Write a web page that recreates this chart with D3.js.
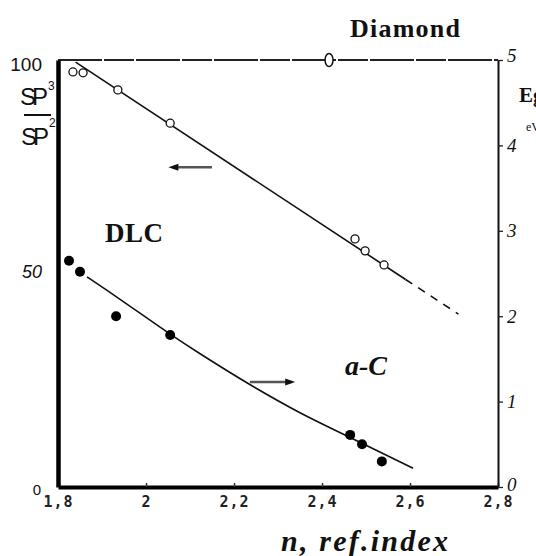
<!DOCTYPE html>
<html><head><meta charset="utf-8">
<script src="https://cdn.jsdelivr.net/npm/d3@7"></script>
<style>html,body{margin:0;padding:0;background:#fff;}svg{display:block;}</style>
</head><body>
<svg id="c" width="536" height="556"></svg>
<script>
// ---- data ----
const xTicks = [1.8, 2.0, 2.2, 2.4, 2.6, 2.8];
const xTickLabels = ["1,8", "2", "2,2", "2,4", "2,6", "2,8"];
const leftTicks = [0, 50, 100];
const leftTickLabels = ["0", "50", "100"];
const rightTicks = [0, 1, 2, 3, 4, 5];
const rightTickLabels = ["0", "1", "2", "3", "4", "5"];
// sp3/sp2 ratio (%) - open circles
const sp3N = [1.834, 1.857, 1.936, 2.055, 2.475, 2.498, 2.541];
const sp3V = [97.2, 97.0, 93.0, 85.2, 58.1, 55.3, 52.0];
// diamond
const diamondN = [2.416];
const diamondV = [100];
// sp3 fit line (solid + dashed extrapolation)
const fitSolidN = [1.84, 2.59];
const fitSolidV = [99.5, 48.6];
const fitDashN = [2.59, 2.71];
const fitDashV = [48.6, 40.5];
// optical gap Eg (eV) - filled circles
const egN = [1.825, 1.85, 1.932, 2.055, 2.464, 2.491, 2.536];
const egV = [2.65, 2.52, 2.00, 1.78, 0.61, 0.50, 0.30];
// Eg fit curve
const egFitN = [1.866, 1.932, 2.055, 2.123, 2.236, 2.35, 2.464, 2.607];
const egFitV = [2.46, 2.23, 1.79, 1.56, 1.20, 0.87, 0.58, 0.22];

// ---- layout ----
const L = 58, R = 498, T = 60, B = 487;
const svg = d3.select("#c");
const x = d3.scaleLinear().domain([1.8, 2.8]).range([L, R]);
const yL = d3.scaleLinear().domain([0, 100]).range([B, T]);
const yR = d3.scaleLinear().domain([0, 5]).range([B, T]);

// top frame (slightly broken line)
svg.append("line").attr("x1", L).attr("x2", R).attr("y1", T).attr("y2", T)
  .attr("stroke", "#222").attr("stroke-width", 2).attr("stroke-dasharray", "44,2,30,2");

// bottom axis
const gx = svg.append("g").attr("transform", `translate(0,${B})`)
  .call(d3.axisBottom(x).tickValues(xTicks).tickSizeInner(-4).tickSizeOuter(0)
    .tickFormat((d, i) => xTickLabels[i]));
gx.select(".domain").attr("stroke", "#000").attr("stroke-width", 4);
gx.selectAll(".tick line").attr("stroke", "#333").attr("stroke-width", 1.5);
gx.selectAll(".tick text").attr("font-family", "DejaVu Sans Mono").attr("font-weight", "bold")
  .attr("font-size", 15).attr("fill", "#222").attr("letter-spacing", 1).attr("y", 9);

// left axis
const gl = svg.append("g").attr("transform", `translate(${L},0)`)
  .call(d3.axisLeft(yL).tickValues(leftTicks).tickSize(0).tickPadding(16)
    .tickFormat((d, i) => leftTickLabels[i]));
gl.select(".domain").attr("stroke", "#000").attr("stroke-width", 4.5);
gl.selectAll(".tick text").attr("font-family", "Liberation Sans").attr("font-size", 18).attr("fill", "#111");
gl.selectAll(".tick text").filter(d => d === 100).attr("dy", "0.55em").attr("x", -16).attr("font-size", 19);
gl.selectAll(".tick text").filter(d => d === 50).attr("font-style", "italic").attr("dy", "0.2em").attr("x", -16);
gl.selectAll(".tick text").filter(d => d === 0).attr("font-size", 15).attr("x", -17).attr("dy", "0.5em");

// right axis
const gr = svg.append("g").attr("transform", `translate(${R},0)`)
  .call(d3.axisRight(yR).tickValues(rightTicks).tickSizeInner(5).tickSizeOuter(0).tickPadding(4)
    .tickFormat((d, i) => rightTickLabels[i]));
gr.select(".domain").attr("stroke", "#111").attr("stroke-width", 2);
gr.selectAll(".tick line").attr("stroke", "#222").attr("stroke-width", 1.3);
gr.selectAll(".tick text").attr("font-family", "Liberation Serif").attr("font-style", "italic")
  .attr("font-size", 19).attr("fill", "#111");
gr.selectAll(".tick text").filter(d => d === 5).attr("dy", "0.1em");
gr.selectAll(".tick text").filter(d => d === 0).attr("dy", "0.2em");

// left axis title SP3 / SP2
const lt = svg.append("g").attr("font-family", "Liberation Sans").attr("fill", "#111");
lt.append("text").attr("x", 20).attr("y", 105).attr("font-size", 24).attr("textLength", 28).text("SP");
lt.append("text").attr("x", 48).attr("y", 90).attr("font-size", 12).text("3");
lt.append("line").attr("x1", 24).attr("x2", 51).attr("y1", 115).attr("y2", 115).attr("stroke", "#111").attr("stroke-width", 2);
lt.append("text").attr("x", 21).attr("y", 145).attr("font-size", 24).attr("textLength", 28).text("SP");
lt.append("text").attr("x", 49).attr("y", 127).attr("font-size", 12).text("2");

// right axis title Eg, eV (partially clipped at the edge, as in the reference)
svg.append("text").attr("x", 519).attr("y", 102).attr("font-family", "Liberation Serif")
  .attr("font-weight", "bold").attr("font-size", 21).attr("fill", "#111").text("Eg");
svg.append("text").attr("x", 526).attr("y", 131).attr("font-family", "Liberation Serif")
  .attr("font-size", 12).attr("fill", "#111").text("eV");

// fit lines
const lineL = d3.line().x(d => x(d[0])).y(d => yL(d[1]));
svg.append("path").datum(fitSolidN.map((n, i) => [n, fitSolidV[i]])).attr("d", lineL)
  .attr("fill", "none").attr("stroke", "#111").attr("stroke-width", 1.6);
svg.append("path").datum(fitDashN.map((n, i) => [n, fitDashV[i]])).attr("d", lineL)
  .attr("fill", "none").attr("stroke", "#111").attr("stroke-width", 1.6).attr("stroke-dasharray", "8,7");

const lineR = d3.line().x(d => x(d[0])).y(d => yR(d[1])).curve(d3.curveCatmullRom);
svg.append("path").datum(egFitN.map((n, i) => [n, egFitV[i]])).attr("d", lineR)
  .attr("fill", "none").attr("stroke", "#111").attr("stroke-width", 1.6);

// open circles
svg.selectAll("circle.sp3").data(sp3N.map((n, i) => [n, sp3V[i]])).join("circle")
  .attr("class", "sp3").attr("cx", d => x(d[0])).attr("cy", d => yL(d[1])).attr("r", 4)
  .attr("fill", "#fff").attr("stroke", "#111").attr("stroke-width", 1.3);
// diamond marker
svg.selectAll("ellipse.dia").data(diamondN.map((n, i) => [n, diamondV[i]])).join("ellipse")
  .attr("class", "dia").attr("cx", d => x(d[0])).attr("cy", d => yL(d[1])).attr("rx", 4).attr("ry", 6.5)
  .attr("fill", "#fff").attr("stroke", "#111").attr("stroke-width", 1.5);
// filled circles
svg.selectAll("circle.eg").data(egN.map((n, i) => [n, egV[i]])).join("circle")
  .attr("class", "eg").attr("cx", d => x(d[0])).attr("cy", d => yR(d[1])).attr("r", 5)
  .attr("fill", "#000");

// arrows
function arrow(x1, x2, yy) {
  svg.append("line").attr("x1", x1).attr("x2", x2).attr("y1", yy).attr("y2", yy)
    .attr("stroke", "#555").attr("stroke-width", 2.5);
  const dir = Math.sign(x2 - x1);
  svg.append("path").attr("d", `M${x2 + dir * 4},${yy} L${x2 - dir * 6},${yy - 3.5} L${x2 - dir * 6},${yy + 3.5} Z`)
    .attr("fill", "#111");
}
arrow(x(2.15), x(2.06), yL(74.9));
arrow(x(2.236), x(2.33), yR(1.23));

// labels
const lab = svg.append("g").attr("font-family", "Liberation Serif").attr("fill", "#111").attr("font-weight", "bold");
lab.append("text").attr("x", 350).attr("y", 37).attr("font-size", 26).attr("textLength", 110).text("Diamond");
lab.append("text").attr("x", 105).attr("y", 242).attr("font-size", 27).attr("textLength", 58).text("DLC");
lab.append("text").attr("x", 345).attr("y", 375).attr("font-size", 28).attr("font-style", "italic").text("a-C");
lab.append("text").attr("x", 281).attr("y", 551).attr("font-size", 30).attr("font-style", "italic").attr("textLength", 167).text("n, ref.index");
</script>
</body></html>
